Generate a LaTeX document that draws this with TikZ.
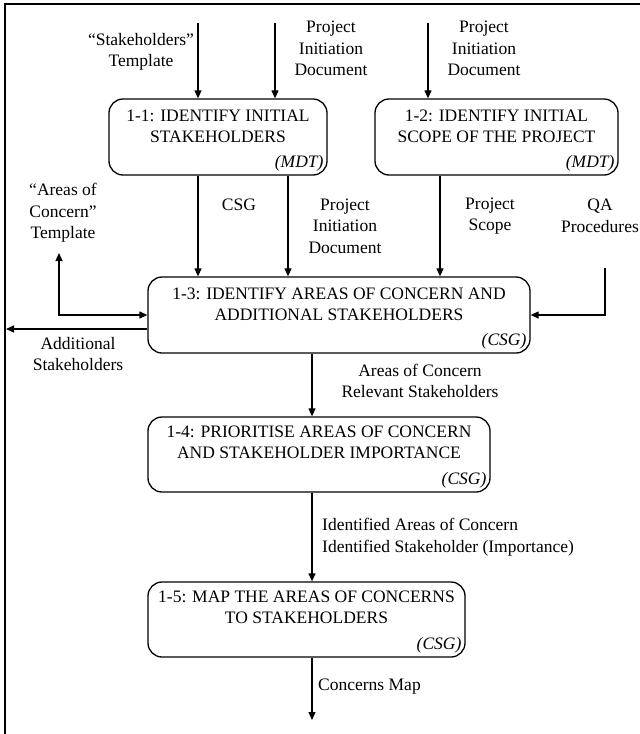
\documentclass[tikz,border=0pt]{standalone}
\usepackage{fontspec}
\setmainfont{Liberation Serif}
\usetikzlibrary{arrows.meta,calc}
\begin{document}
\begin{tikzpicture}[x=1pt,y=-1pt,
  font=\fontsize{17.5}{21.5}\selectfont,
  box/.style={draw, line width=1.3pt, rounded corners=14pt, inner sep=0pt},
  arr/.style={line width=1.2pt, -{Triangle[length=8pt,width=7pt]}},
  darr/.style={line width=1.2pt, {Triangle[length=8pt,width=7pt]}-{Triangle[length=8pt,width=7pt]}},
  lbl/.style={align=center, inner sep=0pt},
  lbll/.style={align=left, inner sep=0pt, anchor=west},
  ttl/.style={align=center, inner sep=0pt, anchor=north},
  tag/.style={font=\fontsize{17.5}{21.5}\selectfont\itshape, inner sep=0pt, anchor=south east}]
\useasboundingbox (0,0) rectangle (640,734);
\fill[white] (0,0) rectangle (640,734);
% frame
\draw[line width=2.5pt] (5,734) -- (5,4) -- (640,4);

% boxes
\node[box, minimum width=218pt, minimum height=76pt] (b11) at (218,137) {};
\node[box, minimum width=243pt, minimum height=76pt] (b12) at (496.5,137) {};
\node[box, minimum width=382pt, minimum height=76pt] (b13) at (339,315) {};
\node[box, minimum width=342pt, minimum height=75pt] (b14) at (319,454.5) {};
\node[box, minimum width=317pt, minimum height=75pt] (b15) at (306.5,619.5) {};

% box texts
\node[ttl] (t11) at ([yshift=-11pt]b11.north) {1-1: IDENTIFY INITIAL\\STAKEHOLDERS};
\node[tag] (m11) at ([xshift=-4pt,yshift=4.5pt]b11.south east) {(MDT)};
\node[ttl] (t12) at ([yshift=-11pt]b12.north) {1-2: IDENTIFY INITIAL\\SCOPE OF THE PROJECT};
\node[tag] (m12) at ([xshift=-4pt,yshift=4.5pt]b12.south east) {(MDT)};
\node[ttl] (t13) at ([yshift=-11pt]b13.north) {1-3: IDENTIFY AREAS OF CONCERN AND\\ADDITIONAL STAKEHOLDERS};
\node[tag] (m13) at ([xshift=-4pt,yshift=4.5pt]b13.south east) {(CSG)};
\node[ttl] (t14) at ([yshift=-9pt]b14.north) {1-4: PRIORITISE AREAS OF CONCERN\\AND STAKEHOLDER IMPORTANCE};
\node[tag] (m14) at ([xshift=-4pt,yshift=4.5pt]b14.south east) {(CSG)};
\node[ttl] (t15) at ([yshift=-9pt]b15.north) {1-5: MAP THE AREAS OF CONCERNS\\TO STAKEHOLDERS};
\node[tag] (m15) at ([xshift=-4pt,yshift=4.5pt]b15.south east) {(CSG)};

% labels
\node[lbl] (lst) at (141,52) {``Stakeholders''\\Template};
\node[lbl] (lpid1) at (331,48.5) {Project\\Initiation\\Document};
\node[lbl] (lpid2) at (484,48.5) {Project\\Initiation\\Document};
\node[lbl] (laoc) at (63,213) {``Areas of\\Concern''\\Template};
\node[lbl] (lcsg) at (239,205) {CSG};
\node[lbl] (lpid3) at (345,226) {Project\\Initiation\\Document};
\node[lbl] (lscope) at (490,216) {Project\\Scope};
\node[lbl] (lqa) at (600,216) {QA\\Procedures};
\node[lbl] (ladd) at (78,354) {Additional\\Stakeholders};
\node[lbl] (larea) at (420,381) {Areas of Concern\\Relevant Stakeholders};
\node[lbll] (lident) at (322,537) {Identified Areas of Concern\\Identified Stakeholder (Importance)};
\node[lbll] (lmap) at (318,687) {Concerns Map};

% coordinates
\coordinate (in1) at (198,23);
\coordinate (in2) at (275,23);
\coordinate (in3) at (428,23);
\coordinate (x288) at (288,0);
\coordinate (x440) at (440,0);
\coordinate (xm) at (312,0);
\coordinate (qa) at (605,268);
\coordinate (aoc) at (59,253);
\coordinate (outl) at (6,329);
\coordinate (fin) at (312,720);

% connectors
\draw[arr] (in1) -- (b11.north -| in1);
\draw[arr] (in2) -- (b11.north -| in2);
\draw[arr] (in3) -- (b12.north -| in3);
\draw[arr] (b11.south -| in1) -- (b13.north -| in1);
\draw[arr] (b11.south -| x288) -- (b13.north -| x288);
\draw[arr] (b12.south -| x440) -- (b13.north -| x440);
\draw[arr] (qa) |- (b13.east);
\draw[darr] (aoc) |- (b13.west);
\draw[arr] (b13.west |- outl) -- (outl);
\draw[arr] (b13.south -| xm) -- (b14.north -| xm);
\draw[arr] (b14.south -| xm) -- (b15.north -| xm);
\draw[arr] (b15.south -| xm) -- (fin);
\end{tikzpicture}
\end{document}
